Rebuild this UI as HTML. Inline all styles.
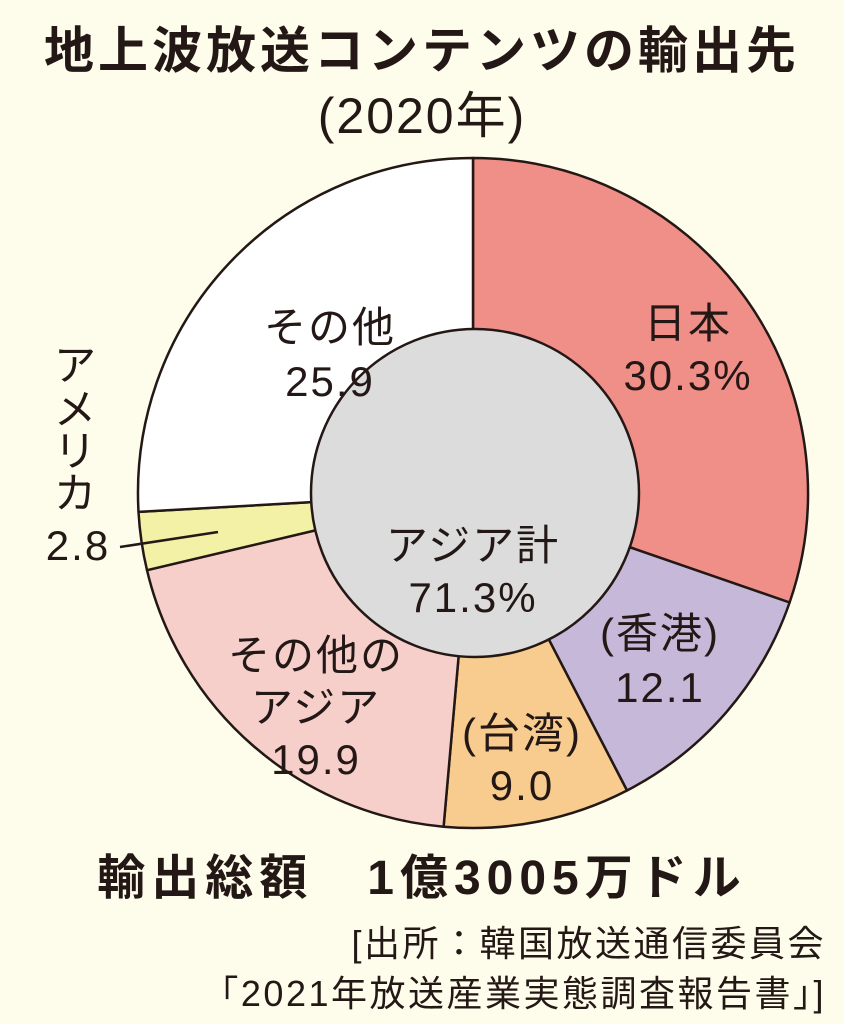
<!DOCTYPE html>
<html><head><meta charset="utf-8"><style>
html,body{margin:0;padding:0;background:#fefcea;}
svg{display:block}
text{font-family:"Liberation Sans","Noto Sans CJK JP",sans-serif;fill:#231815;}
</style></head><body>
<svg width="844" height="1024" viewBox="0 0 844 1024" xmlns="http://www.w3.org/2000/svg">
<rect width="844" height="1024" fill="#fefcea"/>
<text x="422" y="68" font-size="50" font-weight="bold" text-anchor="middle" letter-spacing="4">地上波放送コンテンツの輸出先</text>
<text x="422" y="133" font-size="50" text-anchor="middle" letter-spacing="2">(2020年)</text>
<g stroke="#231815" stroke-width="2.5" stroke-linejoin="round">
<path d="M473,493 L473,158 A335,335 0 0 1 789.6,602.5 Z" fill="#ef8f87"/>
<path d="M473,493 L789.6,602.5 A335,335 0 0 1 627.0,790.5 Z" fill="#c6b8d8"/>
<path d="M473,493 L627.0,790.5 A335,335 0 0 1 443.6,826.7 Z" fill="#f8cb8e"/>
<path d="M473,493 L443.6,826.7 A335,335 0 0 1 147.0,570.2 Z" fill="#f6cfcb"/>
<path d="M473,493 L147.0,570.2 A335,335 0 0 1 138.5,511.9 Z" fill="#f3f1a6"/>
<path d="M473,493 L138.5,511.9 A335,335 0 0 1 473,158 Z" fill="#ffffff"/>
<circle cx="475" cy="493" r="164" fill="#dcdcdc"/>
<line x1="120" y1="547" x2="218" y2="532"/>
</g>
<g font-size="42" text-anchor="middle" letter-spacing="2">
<text x="688" y="338">日本</text>
<text x="688" y="390">30.3%</text>
<text x="660" y="648">(香港)</text>
<text x="660" y="702">12.1</text>
<text x="522" y="748">(台湾)</text>
<text x="522" y="800">9.0</text>
<text x="316" y="670">その他の</text>
<text x="316" y="722">アジア</text>
<text x="316" y="774">19.9</text>
<text x="330" y="342">その他</text>
<text x="330" y="396">25.9</text>
<text x="473" y="560">アジア計</text>
<text x="473" y="612">71.3%</text>
<text x="76" y="380">ア</text>
<text x="76" y="424">メ</text>
<text x="76" y="466">リ</text>
<text x="76" y="508">カ</text>
<text x="78" y="560">2.8</text>
</g>
<text x="422" y="894" font-size="48" font-weight="bold" text-anchor="middle" letter-spacing="6">輸出総額　1億3005万ドル</text>
<text x="826" y="956" font-size="36" text-anchor="end" letter-spacing="2.5">[出所：韓国放送通信委員会</text>
<text x="826" y="1006" font-size="36" text-anchor="end" letter-spacing="2.5">「2021年放送産業実態調査報告書」]</text>
</svg>
</body></html>
